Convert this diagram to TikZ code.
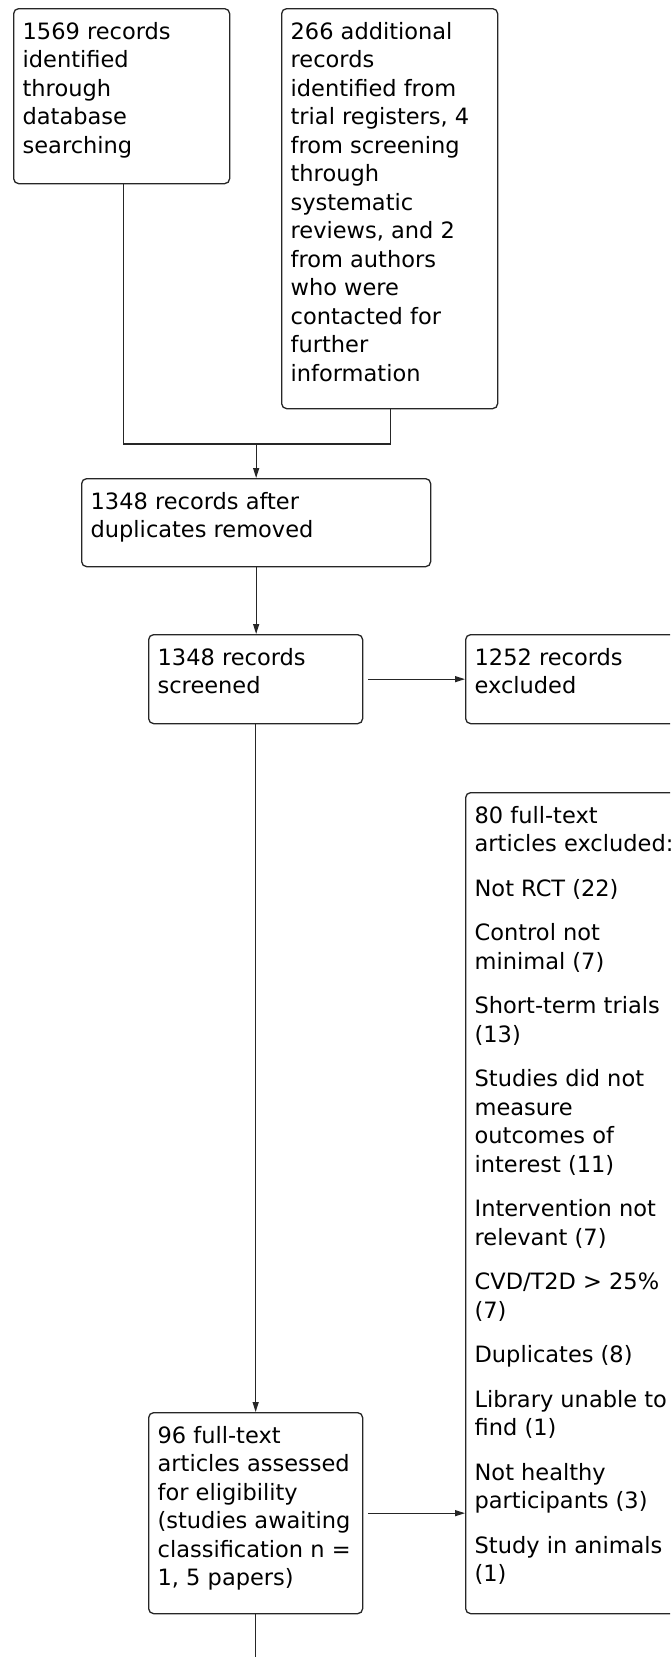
\documentclass[tikz,border=0pt]{standalone}
\usepackage{fontspec}
\setmainfont{DejaVu Sans}
\usetikzlibrary{arrows.meta}
\tikzset{
  flowbox/.style={draw=black!85, line width=1.3pt, rounded corners=5pt, fill=white,
    inner xsep=9pt, inner ysep=0pt, anchor=north west,
    font=\fontsize{22.5}{28.5}\selectfont},
  link/.style={draw=black!85, line width=1.3pt},
  arr/.style={link, -{Triangle[length=10pt,width=6pt]}}
}
\newcommand{\btext}[3]{\parbox[c][#2][t]{#1}{\raggedright\rule{0pt}{30.5pt}#3}}
\begin{document}
\begin{tikzpicture}[x=1pt,y=-1pt]
\useasboundingbox (0,0) rectangle (670,1657);
\clip (0,0) rectangle (670,1657);
\fill[white] (0,0) rectangle (670,1657);

\node[flowbox] (b1) at (13,8) {\btext{198pt}{175pt}{1569 records\\identified\\through\\database\\searching}};
\node[flowbox] (b2) at (281,8) {\btext{198pt}{400pt}{266 additional\\records\\identified from\\trial registers, 4\\from screening\\through\\systematic\\reviews, and 2\\from authors\\who were\\contacted for\\further\\information}};
\node[flowbox] (b3) at (81,478) {\btext{331pt}{88pt}{1348 records after\\duplicates removed}};
\node[flowbox] (b4) at (148,634) {\btext{196pt}{89pt}{1348 records\\screened}};
\node[flowbox] (b5) at (465,634) {\btext{222pt}{89pt}{1252 records\\excluded}};
\node[flowbox] (b6) at (465,792) {\btext{222pt}{821pt}{80 full-text\\articles excluded:\\[16pt]Not RCT (22)\\[16pt]Control not\\minimal (7)\\[16pt]Short-term trials\\(13)\\[16pt]Studies did not\\measure\\outcomes of\\interest (11)\\[16pt]Intervention not\\relevant (7)\\[16pt]CVD/T2D > 25\%\\(7)\\[16pt]Duplicates (8)\\[16pt]Library unable to\\find (1)\\[16pt]Not healthy\\participants (3)\\[16pt]Study in animals\\(1)}};
\node[flowbox] (b7) at (148,1412) {\btext{196pt}{201pt}{96 full-text\\articles assessed\\for eligibility\\(studies awaiting\\classification n =\\1, 5 papers)}};

\path (b3.north) ++(0,-34) coordinate (jn);
\path (b7.south) ++(0,60) coordinate (bot);
\draw[link] ([xshift=2pt]b1.south) |- (jn) -| ([xshift=1pt]b2.south);
\draw[arr] (jn) -- (b3.north);
\draw[arr] (b3.south) -- (b3.south |- b4.north);
\draw[arr] (b4.south) -- (b7.north);
\draw[link] (b7.south) -- (bot);
\draw[arr] ([xshift=5pt]b4.east) -- (b4.east -| b5.west);
\draw[arr] ([xshift=5pt]b7.east) -- (b7.east -| b6.west);
\end{tikzpicture}
\end{document}
